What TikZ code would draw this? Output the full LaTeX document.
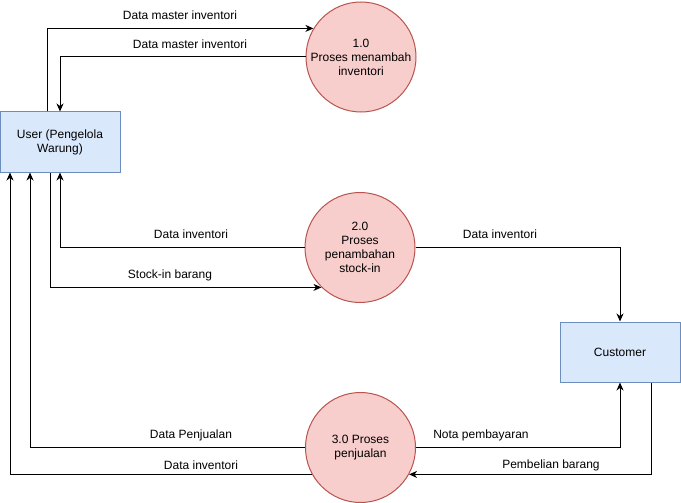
\documentclass[tikz,border=0pt]{standalone}
\usepackage{fontspec}
\setmainfont{Liberation Sans}
\usetikzlibrary{arrows.meta}
\definecolor{entfill}{HTML}{DAE8FC}
\definecolor{entline}{HTML}{6C8EBF}
\definecolor{procfill}{HTML}{F8CECC}
\definecolor{procline}{HTML}{B85450}
\begin{document}
\begin{tikzpicture}[x=1pt,y=-1pt,line width=1pt,
  font=\fontsize{12}{14}\selectfont,
  entity/.style={draw=entline,fill=entfill,minimum width=120pt,minimum height=60pt,inner sep=0pt,align=center},
  proc/.style={circle,draw=procline,fill=procfill,minimum size=110pt,inner sep=0pt,align=center},
  lbl/.style={inner sep=1pt},
  flow/.style={-{Stealth[length=8pt,width=7pt,inset=2.5pt]}}]
\useasboundingbox (0,0) rectangle (681,503);

  %% entitas
  \node[entity] (user) at (60,142) {User (Pengelola\\Warung)};
  \node[entity] (cust) at (620,352) {Customer};

  %% proses
  \node[proc] (p1) at (361,57) {1.0\\Proses menambah\\inventori};
  \node[proc] (p2) at (360,247.5) {2.0\\Proses\\penambahan\\stock-in};
  \node[proc] (p3) at (360.5,447.5) {3.0 Proses\\penjualan};

  %% alur proses 1.0
  \draw[flow] ([xshift=-13pt]user.north) |- (p1.149);
  \draw[flow] (p1.west) -| (user.north);
  \node[lbl] (l1) at (180,15) {Data master inventori};
  \node[lbl] (l2) at (190,44) {Data master inventori};

  %% alur proses 2.0
  \draw[flow] (p2.west) -| (user.south);
  \draw[flow] ([xshift=-10pt]user.south) |- (p2.226);
  \draw[flow] (p2.east) -| (cust.north);
  \node[lbl] (l3) at (191,234) {Data inventori};
  \node[lbl] (l4) at (170,275) {Stock-in barang};
  \node[lbl] (l9) at (500,234) {Data inventori};

  %% alur proses 3.0
  \draw[flow] (p3.west) -| ([xshift=-30pt]user.south);
  \draw[flow] (p3.209) -| ([xshift=-50pt]user.south);
  \draw[flow] (p3.east) -| (cust.south);
  \draw[flow] ([xshift=31pt]cust.south) |- (p3.-29);
  \node[lbl] (l5) at (191,435) {Data Penjualan};
  \node[lbl] (l6) at (201,465) {Data inventori};
  \node[lbl] (l7) at (481,435) {Nota pembayaran};
  \node[lbl] (l8) at (551,465) {Pembelian barang};
\end{tikzpicture}
\end{document}
